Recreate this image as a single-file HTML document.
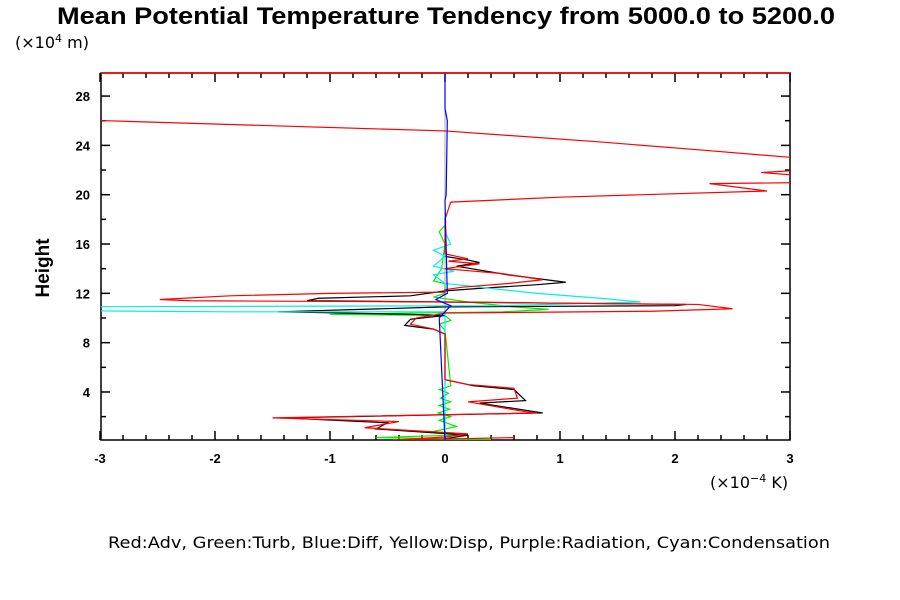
<!DOCTYPE html>
<html><head><meta charset="utf-8"><style>
body{margin:0;background:#fff;}
svg{display:block;font-family:"Liberation Sans",sans-serif;}
</style></head><body>
<svg id="chart" width="900" height="600" viewBox="0 0 900 600">
<text x="57" y="24" font-size="24" font-weight="bold" textLength="778" lengthAdjust="spacingAndGlyphs">Mean Potential Temperature Tendency from 5000.0 to 5200.0</text>
<text x="15" y="48" font-size="16" font-family="DejaVu Sans, sans-serif">(×10<tspan dy="-6" font-size="11">4</tspan><tspan dy="6"> m)</tspan></text>
<text transform="translate(49,268) rotate(-90)" text-anchor="middle" font-size="19" font-weight="bold">Height</text>
<text x="710" y="488" font-size="16" font-family="DejaVu Sans, sans-serif">(×10<tspan dy="-6" font-size="11">−4</tspan><tspan dy="6"> K)</tspan></text>
<text x="108" y="548" font-size="16" font-family="DejaVu Sans, sans-serif" textLength="722" lengthAdjust="spacingAndGlyphs">Red:Adv, Green:Turb, Blue:Diff, Yellow:Disp, Purple:Radiation, Cyan:Condensation</text>
<defs><clipPath id="clip"><rect x="101" y="73" width="689" height="367"/></clipPath></defs>
<g id="axes"></g>
<g id="series" clip-path="url(#clip)"></g>
</svg>
<script>
const xTicks=[-3,-2,-1,0,1,2,3];
const yTicks=[4,8,12,16,20,24,28];
const redV=[-3.3,0,1.35,2.22,3.3,3.3,2.75,3.3,3.3,2.3,2.8,1.0,0.05,0,0,0,0.2,0.03,0.3,0,0.5,0.85,0.55,0.15,0,0,-1.0,-1.87,-2.48,-2.22,0,1.0,2.2,2.5,1.8,0,-0.25,-0.3,-0.1,0,0,0.2,0.6,0.63,0.2,0.7,0.8,-1.5,-0.4,-0.7,0.2,0,-0.45,0.6];
const redH=[26.1,25.17,24.28,23.63,22.8,22.1,21.8,21.4,21.0,20.9,20.3,19.8,19.4,18,16,15.2,14.8,14.6,14.4,14.0,13.6,13.1,12.8,12.5,12.3,12.1,12.0,11.8,11.5,11.4,11.3,11.2,11.1,10.75,10.55,10.4,10.0,9.5,9.1,8.7,5.0,4.6,4.3,3.5,3.2,2.4,2.3,1.9,1.6,1.1,0.6,0.35,0.1,0.3];
const blackV=[0,0.2,0.3,0.1,0.55,1.05,0.8,0.3,0,-0.3,-1.1,-1.2,0,1.0,2.1,2.0,0,-1.45,-0.3,0,-0.3,-0.35,-0.1,0,0,0.25,0.6,0.7,0.3,0.85,-1.4,-0.5,-0.6,0.2,0];
const blackH=[15,14.7,14.5,14.2,13.5,12.9,12.7,12.4,12.2,11.8,11.6,11.4,11.3,11.2,11.1,11.0,10.9,10.5,10.3,10.2,9.9,9.4,9.1,8.7,5,4.5,4.2,3.3,3.1,2.3,1.9,1.5,1.0,0.5,0.2];
const cyanV=[0,0,0.05,-0.1,0,-0.1,0.08,-0.1,0,0.8,1.35,1.7,0.5,-3.4,-3.4,-1.9,0,0];
const cyanH=[18.5,17,16,15.5,15,14.2,13.8,13.5,12.8,12.0,11.6,11.3,11.0,10.9,10.6,10.5,10.5,0];
const greenV=[0,-0.05,0,-0.03,-0.1,0,0,-0.1,0.2,0.6,0.9,0.5,-1.0,0,0.05,-0.05,0,0.05,-0.05,0.03,-0.04,0.05,-0.05,0.04,-0.06,0.05,-0.05,0.1,-0.1,0.1,-0.6,0.4,-0.4];
const greenH=[17.5,17,16,14,13,12.8,12,11.7,11.3,10.9,10.7,10.5,10.3,10.2,9.8,9.5,9,4.5,4.2,3.9,3.5,3.2,2.9,2.6,2.3,2.0,1.7,1.2,0.8,0.5,0.3,0.15,0.05];
const blueV=[0,0,0.02,0.01,0,0.02,-0.08,0.05,-0.05,0];
const blueH=[29.8,27,26,20,19.5,12,11.5,11.0,10.0,0];

const X=v=>445+v*115, Y=h=>441.3-h*12.33;
const NS='http://www.w3.org/2000/svg';
const axes=document.getElementById('axes'), ser=document.getElementById('series');
function mk(tag,attrs,parent){const e=document.createElementNS(NS,tag);for(const k in attrs)e.setAttribute(k,attrs[k]);parent.appendChild(e);return e;}
const frame=mk('rect',{x:101,y:73,width:689,height:367,fill:'none',stroke:'#000','stroke-width':1.5},axes);


const zl=mk('line',{x1:X(0),x2:X(0),y1:73,y2:440,stroke:'#aaa','stroke-width':1},axes);


for(let i=-15;i<=15;i++){const v=i/5;const x=X(v);const major=(i%5===0);const L=major?9:5;
 const t1=mk('line',{x1:x,x2:x,y1:440,y2:440-L,stroke:'#000','stroke-width':1.5},axes);
 
 
 const t2=mk('line',{x1:x,x2:x,y1:73,y2:73+L,stroke:'#000','stroke-width':1.5},axes);
 
 }
xTicks.forEach(v=>{const t=mk('text',{x:X(v),y:463,'text-anchor':'middle','font-size':13,'font-weight':'bold'},axes);t.textContent=v;
 
 });
for(let h=2;h<=28;h+=2){const y=Y(h);const major=(h%4===0);const L=major?9:5;
 const t1=mk('line',{x1:101,x2:101+L,y1:y,y2:y,stroke:'#000','stroke-width':1.5},axes);
 
 
 const t2=mk('line',{x1:790,x2:790-L,y1:y,y2:y,stroke:'#000','stroke-width':1.5},axes);
 
 }
yTicks.forEach(h=>{const t=mk('text',{x:90,y:Y(h)+5,'text-anchor':'end','font-size':13,'font-weight':'bold'},axes);t.textContent=h;
 
 });
function line(vs,hs,color,name){const p=mk('polyline',{points:vs.map((v,i)=>X(v)+','+Y(hs[i])).join(' '),fill:'none',stroke:color,'stroke-width':1.2},ser);
 
 }
line(greenV,greenH,'#00ee00','series-turb');
line(blackV,blackH,'#000','series-total');
line(cyanV,cyanH,'#00eeee','series-condensation');
line(redV,redH,'#f00','series-adv');
line(blueV,blueH,'#0000ff','series-diff');
const tb=mk('line',{x1:101,x2:790,y1:73,y2:73,stroke:'#f00','stroke-width':1.5},axes);


</script>
</body></html>
